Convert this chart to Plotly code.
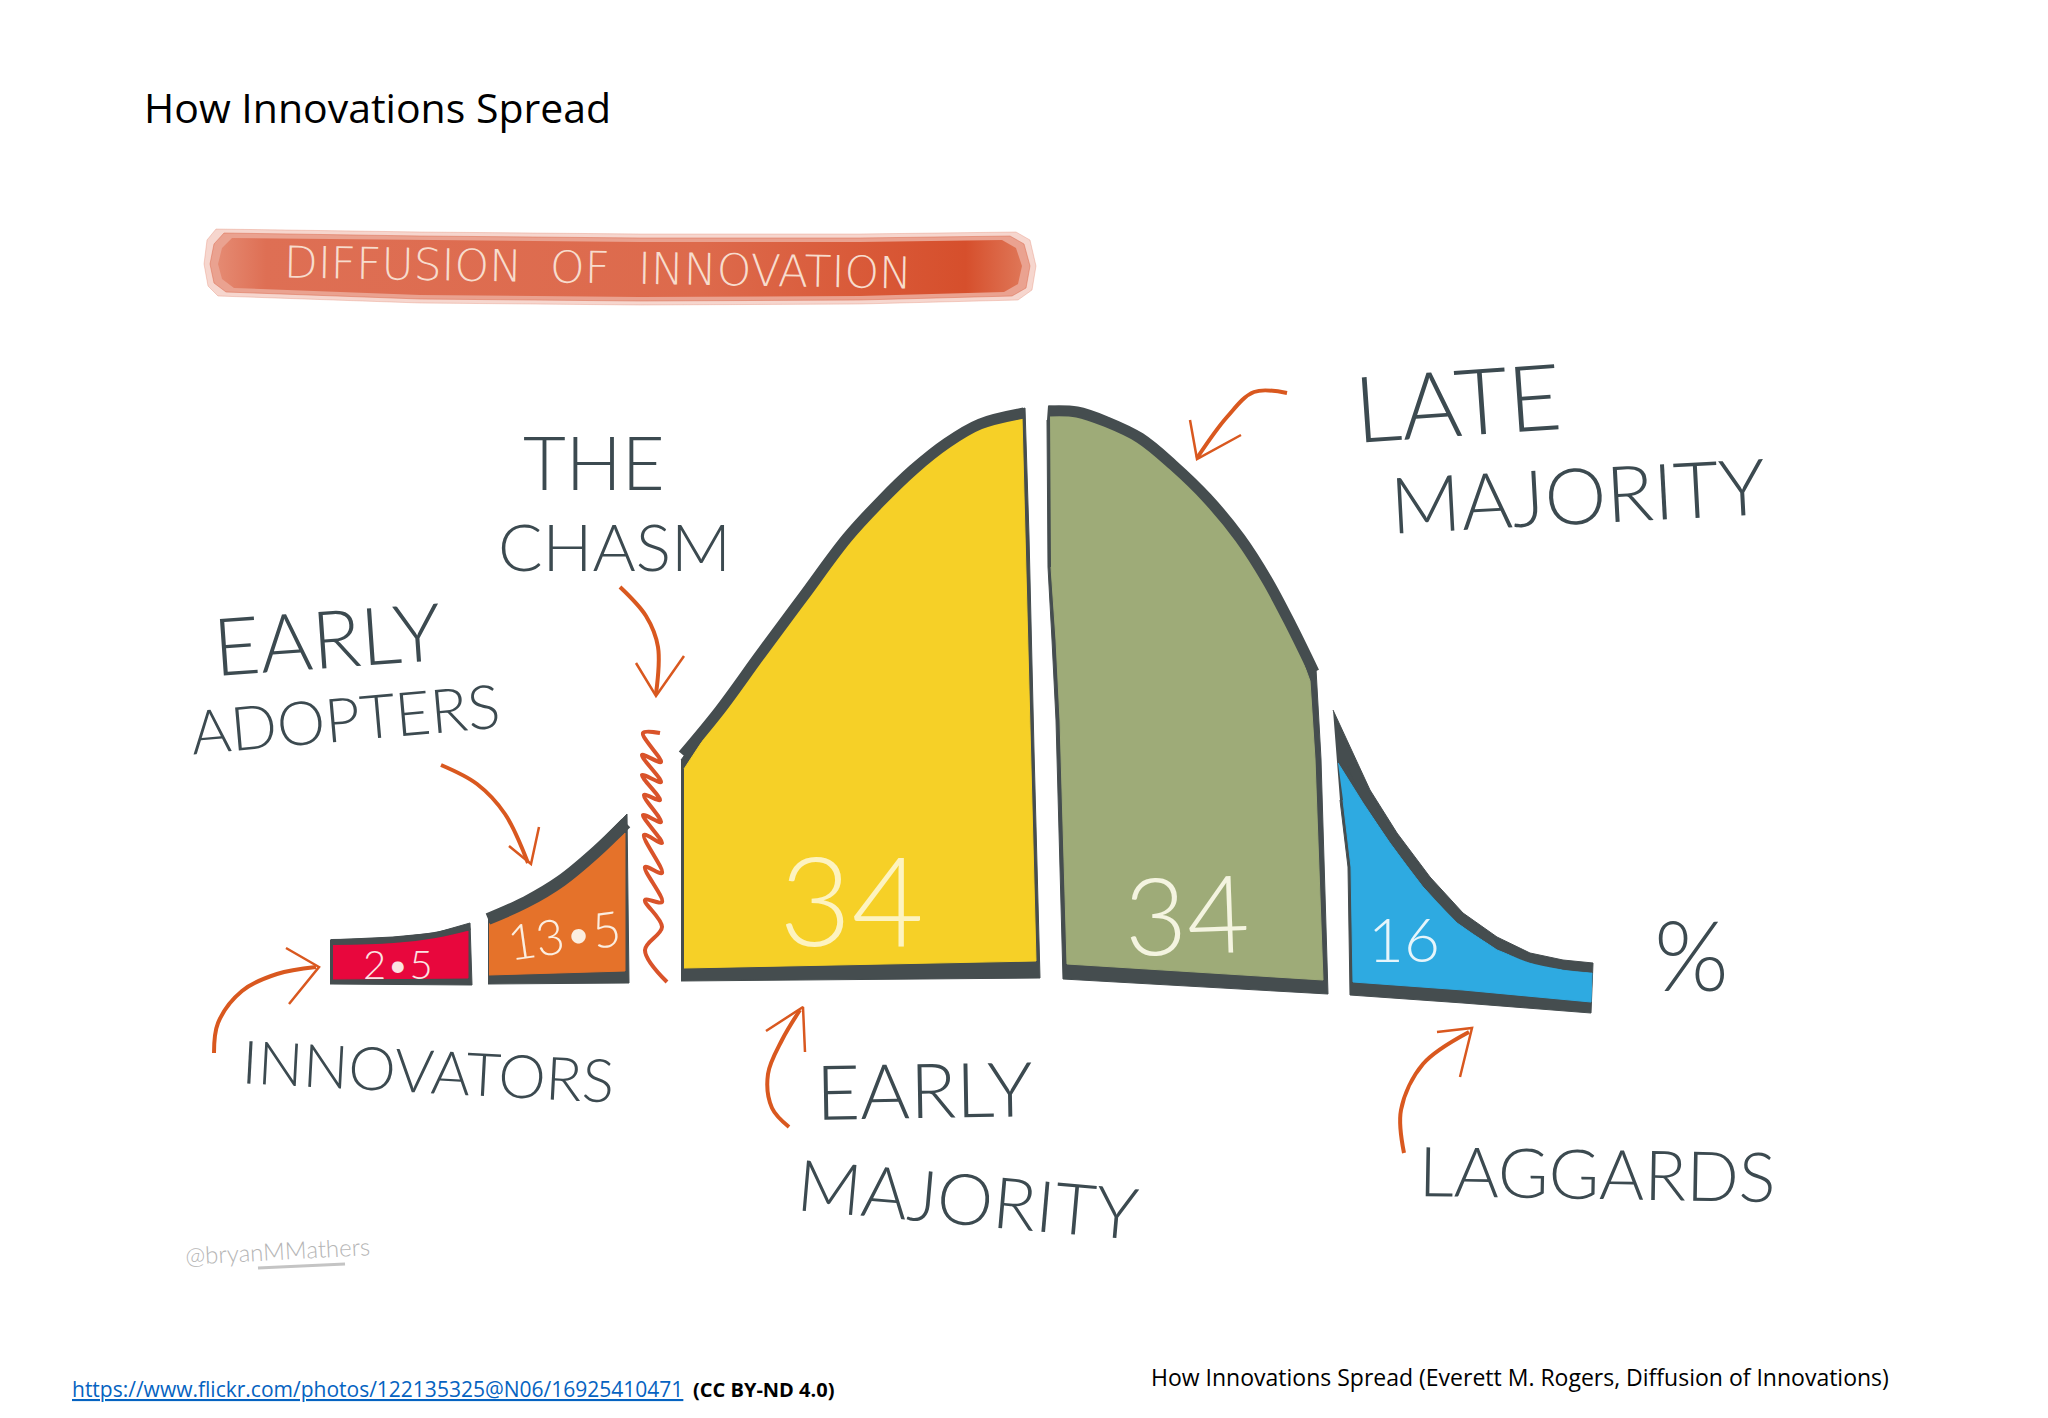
import plotly.graph_objects as go

# segment values and what is written on them
segment_names = ["Innovators", "Early Adopters", "Early Majority", "Late Majority", "Laggards"]
segment_values = ["2•5", "13•5", "34", "34", "16"]
segment_colors = ["#e8073d", "#e5722a", "#f6d027", "#9eab78", "#2eaae1"]
outline_color = "#454d4f"
arrow_color = "#d9581f"
ink = "#3c4a50"

# outlines, dark shape first then the colour inside it
red_out_x = [330, 393, 435, 470, 472, 330]
red_out_y = [940, 937, 933, 923, 985, 984]
red_x = [333, 393, 435, 468, 468, 333]
red_y = [945, 943, 938, 931, 978, 979]

orange_out_x = [488, 526, 561, 596, 627, 629, 488]
orange_out_y = [914, 897, 876, 846, 814, 983, 984]
orange_x = [489, 526, 561, 596, 625, 625, 489]
orange_y = [924, 908, 886, 859, 833, 971, 975]

yellow_out_x = [681, 720, 760, 803, 847, 880, 913, 947, 980, 1025, 1029, 1034, 1040, 681]
yellow_out_y = [760, 707, 652, 594, 535, 499, 467, 440, 421, 408, 536, 750, 978, 981]
yellow_x = [684, 720, 760, 803, 847, 880, 913, 947, 980, 1022, 1025, 1031, 1036, 684]
yellow_y = [769, 714, 659, 601, 542, 506, 474, 447, 428, 417, 536, 750, 961, 968]

green_out_x = [1048, 1077, 1107, 1140, 1173, 1207, 1240, 1267, 1291, 1316, 1321, 1328, 1063, 1056, 1052, 1048, 1047]
green_out_y = [406, 408, 418, 434, 461, 494, 534, 576, 621, 669, 759, 994, 979, 720, 640, 567, 420]
green_x = [1050, 1077, 1107, 1140, 1173, 1207, 1240, 1267, 1291, 1310, 1315, 1323, 1067, 1060, 1056, 1051]
green_y = [416, 415, 425, 441, 468, 501, 541, 583, 628, 681, 759, 980, 964, 720, 640, 567]

blue_out_x = [1333, 1350, 1370, 1397, 1430, 1463, 1497, 1530, 1563, 1593, 1591, 1463, 1350, 1348, 1340]
blue_out_y = [710, 747, 790, 833, 877, 913, 937, 953, 960, 963, 1013, 1003, 995, 867, 800]
blue_x = [1338, 1363, 1390, 1423, 1457, 1497, 1530, 1563, 1592, 1591, 1463, 1353, 1351, 1343]
blue_y = [763, 803, 843, 887, 923, 950, 963, 970, 973, 1002, 990, 982, 867, 800]

# the thick curved top edge of each segment
red_top_x = [331, 393, 435, 470]
red_top_y = [942, 940, 935, 927]
orange_top_x = [488, 526, 561, 596, 626]
orange_top_y = [919, 902, 881, 852, 823]
yellow_top_x = [683, 720, 760, 803, 847, 880, 913, 947, 980, 1024]
yellow_top_y = [755, 710, 655, 597, 538, 502, 470, 443, 424, 413]
green_top_x = [1049, 1077, 1107, 1140, 1173, 1207, 1240, 1267, 1291, 1314]
green_top_y = [411, 412, 422, 438, 465, 498, 538, 580, 625, 672]
blue_top_x = [1352, 1366, 1393, 1426, 1460, 1497, 1530, 1563, 1592]
blue_top_y = [765, 796, 838, 882, 918, 943, 958, 965, 968]

# red banner behind the heading
banner_out_x = [204, 207, 216, 420, 640, 860, 1016, 1030, 1036, 1032, 1018, 860, 640, 420, 218, 208, 204]
banner_out_y = [264, 240, 229, 232, 234, 234, 232, 240, 266, 290, 300, 304, 305, 303, 296, 286, 264]
banner_mid_x = [210, 214, 224, 420, 640, 860, 1010, 1024, 1030, 1026, 1012, 860, 640, 420, 226, 214, 210]
banner_mid_y = [264, 244, 233, 236, 238, 238, 236, 244, 266, 288, 296, 300, 301, 299, 292, 283, 264]
banner_x = [218, 222, 232, 420, 640, 860, 1002, 1016, 1022, 1018, 1004, 860, 640, 420, 234, 222, 218]
banner_y = [264, 248, 238, 240, 242, 242, 240, 248, 266, 284, 292, 296, 297, 295, 288, 279, 264]

# the chasm squiggle
chasm_x = [660, 643, 661, 642, 661, 642, 660, 644, 661, 643, 662, 644, 662, 645, 662, 645, 662, 645, 667]
chasm_y = [733, 733, 762, 755, 782, 775, 800, 795, 822, 815, 843, 835, 873, 867, 902, 900, 927, 950, 982]

# arrows: shaft then head
arrows = {
    "innovators": ([214, 218, 242, 277, 316], [1053, 1023, 991, 974, 967],
                   [286, 319, 289], [948, 967, 1004]),
    "adopters": ([441, 477, 505, 528], [765, 784, 814, 863],
                 [509, 531, 539], [846, 864, 827]),
    "chasm": ([620, 646, 658, 656], [587, 616, 647, 694],
              [636, 656, 684], [663, 696, 656]),
    "early majority": ([789, 772, 768, 782, 800], [1127, 1108, 1074, 1040, 1010],
                       [766, 803, 805], [1031, 1007, 1052]),
    "late majority": ([1287, 1254, 1227, 1197], [393, 392, 417, 458],
                      [1190, 1197, 1241], [420, 459, 435]),
    "laggards": ([1404, 1401, 1423, 1469], [1153, 1110, 1064, 1032],
                 [1437, 1472, 1460], [1032, 1028, 1077]),
}

fig = go.Figure()


def add_shape(x, y, color):
    fig.add_trace(go.Scatter(x=x, y=y, mode="lines", fill="toself", fillcolor=color,
                             line=dict(color=color, width=1), hoverinfo="skip", showlegend=False))


def add_top(x, y, width):
    fig.add_trace(go.Scatter(x=x, y=y, mode="lines", line=dict(color=outline_color, width=width, shape="spline"),
                             hoverinfo="skip", showlegend=False))


# banner
add_shape(banner_out_x, banner_out_y, "rgba(226,120,92,0.3)")
add_shape(banner_mid_x, banner_mid_y, "rgba(222,110,82,0.5)")
fig.add_trace(go.Scatter(x=banner_x, y=banner_y, mode="lines", fill="toself",
                         fillgradient=dict(type="horizontal",
                                           colorscale=[[0, "#e58a72"], [0.06, "#de6f54"], [0.6, "#dd6a4c"],
                                                       [0.93, "#d64f2c"], [1, "#df7657"]]),
                         line=dict(width=0), hoverinfo="skip", showlegend=False))

# curve segments
add_shape(red_out_x, red_out_y, outline_color)
add_shape(red_x, red_y, segment_colors[0])
add_top(red_top_x, red_top_y, 6)
add_shape(orange_out_x, orange_out_y, outline_color)
add_shape(orange_x, orange_y, segment_colors[1])
add_top(orange_top_x, orange_top_y, 12)
add_shape(yellow_out_x, yellow_out_y, outline_color)
add_shape(yellow_x, yellow_y, segment_colors[2])
add_top(yellow_top_x, yellow_top_y, 11)
add_shape(green_out_x, green_out_y, outline_color)
add_shape(green_x, green_y, segment_colors[3])
add_top(green_top_x, green_top_y, 11)
add_shape(blue_out_x, blue_out_y, outline_color)
add_shape(blue_x, blue_y, segment_colors[4])
add_top(blue_top_x, blue_top_y, 9)

fig.add_trace(go.Scatter(x=chasm_x, y=chasm_y, mode="lines", line=dict(color="#d9532a", width=4, shape="spline"),
                         hoverinfo="skip", showlegend=False))

for name in arrows:
    sx, sy, hx, hy = arrows[name]
    fig.add_trace(go.Scatter(x=sx, y=sy, mode="lines", line=dict(color=arrow_color, width=4, shape="spline"),
                             hoverinfo="skip", showlegend=False))
    fig.add_trace(go.Scatter(x=hx, y=hy, mode="lines", line=dict(color=arrow_color, width=2.5),
                             hoverinfo="skip", showlegend=False))

# underline of the signature
fig.add_trace(go.Scatter(x=[258, 345], y=[1268, 1264], mode="lines", line=dict(color="#c4c4c4", width=3),
                         hoverinfo="skip", showlegend=False))

hand = "Lato"


def label(text, x, y, size, angle=0, color=ink, family=hand, weight=300, anchor="center"):
    fig.add_annotation(x=x, y=y, text=text, showarrow=False, textangle=angle, xanchor=anchor, yanchor="middle",
                       font=dict(family=family, size=size, color=color, weight=weight))


label("DIFFUSION  OF  INNOVATION", 598, 267, 44, 1, "#f7dccd", "DejaVu Sans", 200)
label("THE", 594, 461, 74)
label("CHASM", 614, 545, 66)
label("EARLY", 327, 637, 80, -4)
label("ADOPTERS", 345, 717, 61, -5)
label("INNOVATORS", 428, 1070, 60, 3)
label("EARLY", 924, 1088, 76, -1)
label("MAJORITY", 968, 1197, 71, 5)
label("LATE", 1457, 400, 92, -4)
label("MAJORITY", 1577, 494, 78, -3)
label("LAGGARDS", 1597, 1172, 69, 1)
label("%", 1691, 953, 96)
label("@bryanMMathers", 277, 1250, 24, -3, "#b5b5b5")

label(segment_values[0], 398, 964, 40, 0, "#fbe3e3")
label(segment_values[1], 564, 934, 49, -8, "#fbeee0")
label(segment_values[2], 851, 898, 125, 0, "#fdf3c0")
label(segment_values[3], 1186, 912, 108, -2, "#f4f4e0")
label(segment_values[4], 1404, 938, 62, 0, "#e6f5fb")

# page text
label("How Innovations Spread", 142, 107, 41, 0, "#000000", "Open Sans", 400, "left")
fig.add_annotation(x=70, y=1389, text="https://www.flickr.com/photos/122135325@N06/16925410471", showarrow=False,
                   xanchor="left", yanchor="middle",
                   font=dict(family="Open Sans", size=21, color="#0563c1", lineposition="under"))
label("<b>(CC BY-ND 4.0)</b>", 691, 1389, 20, 0, "#000000", "Open Sans", 400, "left")
label("How Innovations Spread (Everett M. Rogers, Diffusion of Innovations)", 1149, 1377, 23, 0, "#000000",
      "Open Sans", 400, "left")

fig.update_xaxes(range=[0, 2048], visible=False, fixedrange=True)
fig.update_yaxes(range=[1418, 0], visible=False, fixedrange=True)
fig.update_layout(width=2048, height=1418, margin=dict(l=0, r=0, t=0, b=0),
                  paper_bgcolor="white", plot_bgcolor="white", showlegend=False)

# the page body has a default margin that would push the picture off by 8px
fig.write_html("out.html", config={"displayModeBar": False}, post_script="document.body.style.margin='0';")
